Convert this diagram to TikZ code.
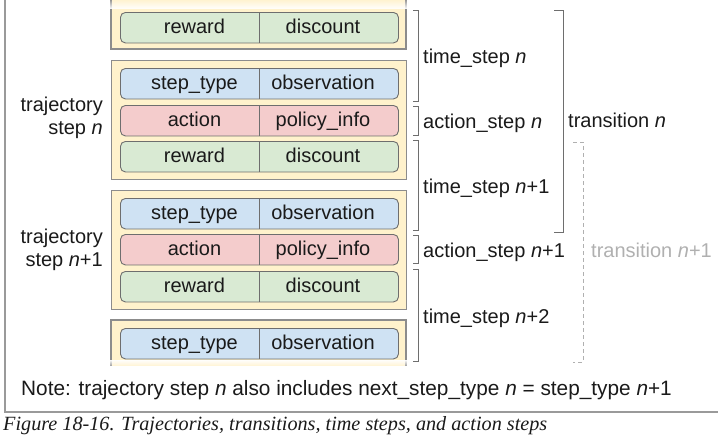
\documentclass[tikz,border=0pt]{standalone}
\usepackage{fontspec}
\setmainfont{Liberation Sans}
\newfontfamily\capfont{Liberation Serif}
\usetikzlibrary{fadings}
\definecolor{trayel}{HTML}{FFF2CC}
\definecolor{pblue}{HTML}{CFE2F3}
\definecolor{pred}{HTML}{F4CCCC}
\definecolor{pgreen}{HTML}{D9EAD3}
\definecolor{pline}{HTML}{6E6E6E}
\definecolor{bline}{HTML}{8C8C8C}
\definecolor{txt}{HTML}{1A1A1A}
\definecolor{faint}{HTML}{B0B0B0}
\definecolor{frameline}{HTML}{9A9A9A}
\tikzset{
  trbox/.style={draw=bline, line width=1.1pt},
  pill/.style={draw=pline, rounded corners=5pt, line width=0.9pt, minimum width=278pt, minimum height=30.5pt, inner sep=0pt, anchor=north west},
  ptext/.style={text=txt, text height=14pt, text depth=2pt, inner sep=0pt},
  brk/.style={draw=pline, line width=1pt},
  lab/.style={text=txt, anchor=west, text height=14pt, text depth=2pt, inner sep=0pt},
  framestyle/.style={draw=frameline, line width=1.3pt},
}
\newcommand\mkpill[5]{%
  \node[pill, fill=#3] (#1) at (120,#2) {};
  \draw[draw=pline, line width=0.9pt] (#1.north) -- (#1.south);
  \node[ptext] (#1l) at ([xshift=-65pt]#1.center) {#4};
  \node[ptext] (#1r) at ([xshift=63.5pt]#1.center) {#5};
}
\begin{document}
\begin{tikzpicture}[x=1pt,y=-1pt,font=\fontsize{20}{23}\selectfont]
\useasboundingbox (0,0) rectangle (718,447);
% outer frame
\draw[framestyle] (5,0) -- (5,412) -- (718,412);
% box 0 (partial, top)
\fill[trayel] (111,0) rectangle (406,49);
\draw[trbox] (111,0) -- (111,49) -- (406,49) -- (406,0);
\mkpill{g0}{12}{pgreen}{reward}{discount}
\fill[white, path fading=north] (108,-1) rectangle (409,9);
% box 1
\node[trbox, fill=trayel, minimum width=295pt, minimum height=119pt, inner sep=0pt, anchor=north west] (traj1) at (111,60) {};
\mkpill{b1}{68}{pblue}{step\_type}{observation}
\mkpill{r1}{105}{pred}{action}{policy\_info}
\mkpill{g1}{141}{pgreen}{reward}{discount}
% box 2
\node[trbox, fill=trayel, minimum width=295pt, minimum height=119pt, inner sep=0pt, anchor=north west] (traj2) at (111,190) {};
\mkpill{b2}{198}{pblue}{step\_type}{observation}
\mkpill{r2}{234}{pred}{action}{policy\_info}
\mkpill{g2}{271}{pgreen}{reward}{discount}
% box 3 (partial, bottom)
\fill[trayel] (111,320) rectangle (406,366);
\draw[trbox] (111,366) -- (111,320) -- (406,320) -- (406,366);
\mkpill{b3}{328}{pblue}{step\_type}{observation}
\fill[white, path fading=south] (108,359.5) rectangle (409,367);
% left labels
\node[text=txt, align=right, anchor=east, inner sep=0pt] (ltraj1) at (103,118) {trajectory\\step \textit{n}};
\node[text=txt, align=right, anchor=east, inner sep=0pt] (ltraj2) at (103,250) {trajectory\\step \textit{n}+1};
% brackets and labels
\draw[brk] (413,10) -- (418,10) -- (418,101) -- (413,101);
\node[lab] (tsn) at (423,57) {time\_step \textit{n}};
\draw[brk] (413,106) -- (418,106) -- (418,135) -- (413,135);
\node[lab] (asn) at (423,122) {action\_step \textit{n}};
\draw[brk] (413,140) -- (418,140) -- (418,230) -- (413,230);
\node[lab] (tsn1) at (423,187) {time\_step \textit{n}+1};
\draw[brk] (413,235) -- (418,235) -- (418,263) -- (413,263);
\node[lab] (asn1) at (423,251) {action\_step \textit{n}+1};
\draw[brk] (413,269) -- (418,269) -- (418,361) -- (413,361);
\node[lab] (tsn2) at (423,317) {time\_step \textit{n}+2};
\draw[brk] (554,10) -- (563,10) -- (563,232) -- (554,232);
\node[lab] (trn) at (568,121) {transition \textit{n}};
\draw[draw=faint, line width=1pt, dash pattern=on 4pt off 3pt] (573,142) -- (583,142) -- (583,362) -- (573,362);
\node[lab, text=faint] (trn1) at (591,251) {transition \textit{n}+1};
% note and caption
\node[lab, font=\fontsize{20.8}{23}\selectfont] (note) at (21,389) {Note: trajectory step \textit{n} also includes next\_step\_type \textit{n} = step\_type \textit{n}+1};
\node[anchor=base west, inner sep=0pt, text=txt, font=\capfont\itshape\fontsize{20.2}{23}\selectfont] (caption) at (3,430) {Figure 18-16. Trajectories, transitions, time steps, and action steps};
\end{tikzpicture}
\end{document}
